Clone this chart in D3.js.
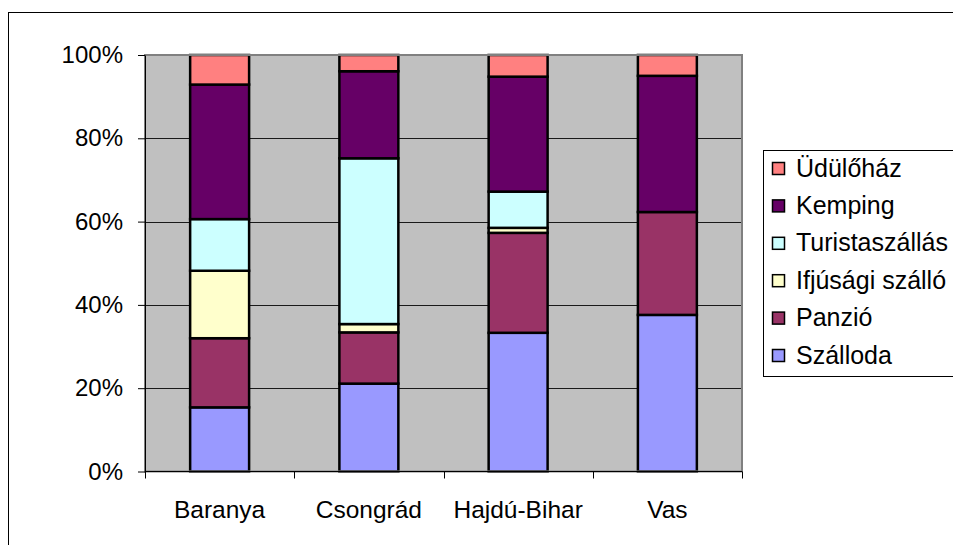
<!DOCTYPE html>
<html>
<head>
<meta charset="utf-8">
<script src="https://cdn.jsdelivr.net/npm/d3@7/dist/d3.min.js"></script>
<style>
  html, body { margin: 0; padding: 0; background: #fff; }
  svg { display: block; font-family: Arial, "Liberation Sans", sans-serif; }
</style>
</head>
<body>
<svg id="chart" width="953" height="545"></svg>
<script>
// Counties (categories) along the x axis
const counties = ["Baranya", "Csongrád", "Hajdú-Bihar", "Vas"];

// Share of each accommodation type per county (percent), bottom to top
const szalloda      = [15.4, 21.1, 33.3, 37.6];
const panzio        = [16.6, 12.3, 24.0, 24.7];
const ifjusagi      = [16.2,  2.0,  1.2,  0.0];
const turistaszallas= [12.4, 39.8,  8.7,  0.0];
const kemping       = [32.3, 20.9, 27.6, 32.7];
const udulohaz      = [ 7.1,  3.9,  5.2,  5.0];

const seriesNames = ["Szálloda", "Panzió", "Ifjúsági szálló", "Turistaszállás", "Kemping", "Üdülőház"];
const seriesValues = [szalloda, panzio, ifjusagi, turistaszallas, kemping, udulohaz];
const seriesColors = ["#9999FF", "#993366", "#FFFFCC", "#CCFFFF", "#660066", "#FF8080"];

const yTicks = [0, 0.2, 0.4, 0.6, 0.8, 1.0];

const svg = d3.select("#chart");

// Outer chart frame
svg.append("rect")
  .attr("x", 8.5).attr("y", 12.5)
  .attr("width", 1000).attr("height", 600)
  .attr("fill", "none").attr("stroke", "#000").attr("stroke-width", 1);

const plot = { left: 145, right: 742, top: 55, bottom: 471.5 };

// Build rows and normalise to 100%
const rows = counties.map((c, i) => {
  const row = { county: c };
  let total = 0;
  seriesNames.forEach((s, k) => { total += seriesValues[k][i]; });
  seriesNames.forEach((s, k) => { row[s] = seriesValues[k][i] / total; });
  return row;
});

const stack = d3.stack().keys(seriesNames);
const stacked = stack(rows);

const x = d3.scaleBand()
  .domain(counties)
  .range([plot.left, plot.right])
  .paddingInner(0.605)
  .paddingOuter(0.3025);

const y = d3.scaleLinear().domain([0, 1]).range([plot.bottom, plot.top]);

// Plot background
svg.append("rect")
  .attr("x", plot.left).attr("y", plot.top)
  .attr("width", plot.right - plot.left).attr("height", plot.bottom - plot.top)
  .attr("fill", "#C0C0C0");

// Horizontal gridlines
svg.append("g")
  .selectAll("line")
  .data(yTicks.filter(t => t > 0 && t < 1))
  .join("line")
  .attr("x1", plot.left).attr("x2", plot.right)
  .attr("y1", d => Math.round(y(d)) + 0.5).attr("y2", d => Math.round(y(d)) + 0.5)
  .attr("stroke", "#1a1a1a").attr("stroke-width", 1);

// Stacked bars
svg.append("g")
  .selectAll("g")
  .data(stacked)
  .join("g")
  .attr("fill", (d, i) => seriesColors[i])
  .selectAll("rect")
  .data(d => d.filter(p => p[1] - p[0] > 0))
  .join("rect")
  .attr("x", d => x(d.data.county))
  .attr("width", x.bandwidth())
  .attr("y", d => y(d[1]))
  .attr("height", d => y(d[0]) - y(d[1]))
  .attr("stroke", "#000")
  .attr("stroke-width", 2.5);

// Plot border (gray)
svg.append("rect")
  .attr("x", plot.left).attr("y", plot.top)
  .attr("width", plot.right - plot.left).attr("height", plot.bottom - plot.top)
  .attr("fill", "none").attr("stroke", "#808080").attr("stroke-width", 2);

// Y axis
const yAxis = d3.axisLeft(y)
  .tickValues(yTicks)
  .tickFormat(d3.format(".0%"))
  .tickSizeInner(7).tickSizeOuter(0).tickPadding(15);
const gy = svg.append("g")
  .attr("transform", `translate(${plot.left},0)`)
  .call(yAxis);
gy.select(".domain").attr("stroke", "#000").attr("stroke-width", 1);
gy.selectAll(".tick line").attr("stroke", "#000");
gy.selectAll(".tick text")
  .attr("fill", "#000").style("font-size", "24px")
  .attr("font-family", "Arial, 'Liberation Sans', sans-serif");

// X axis with ticks on category boundaries
const gx = svg.append("g")
  .attr("transform", `translate(0,${plot.bottom})`);
gx.append("line")
  .attr("x1", plot.left).attr("x2", plot.right)
  .attr("y1", 0).attr("y2", 0)
  .attr("stroke", "#000");
const boundaries = d3.range(counties.length + 1).map(i => plot.left + i * (plot.right - plot.left) / counties.length);
gx.selectAll("line.tick")
  .data(boundaries)
  .join("line")
  .attr("class", "tick")
  .attr("x1", d => Math.round(d) + 0.5).attr("x2", d => Math.round(d) + 0.5)
  .attr("y1", 0).attr("y2", 7)
  .attr("stroke", "#000");
gx.selectAll("text")
  .data(counties)
  .join("text")
  .attr("x", d => x(d) + x.bandwidth() / 2)
  .attr("y", 46)
  .attr("text-anchor", "middle")
  .style("font-size", "24.5px")
  .text(d => d);

// Legend
const legend = svg.append("g");
legend.append("rect")
  .attr("x", 763.5).attr("y", 150.5)
  .attr("width", 300).attr("height", 226)
  .attr("fill", "#fff").attr("stroke", "#000").attr("stroke-width", 1);

const legendOrder = d3.range(seriesNames.length).reverse();
const item = legend.selectAll("g.item")
  .data(legendOrder)
  .join("g")
  .attr("class", "item")
  .attr("transform", (k, i) => `translate(0,${176.5 + i * 37.4})`);
item.append("rect")
  .attr("x", 772.5).attr("y", -14)
  .attr("width", 12).attr("height", 12)
  .attr("fill", k => seriesColors[k])
  .attr("stroke", "#000").attr("stroke-width", 1.5);
item.append("text")
  .attr("x", 796)
  .attr("y", 0)
  .style("font-size", "25px")
  .text(k => seriesNames[k]);
</script>
</body>
</html>
